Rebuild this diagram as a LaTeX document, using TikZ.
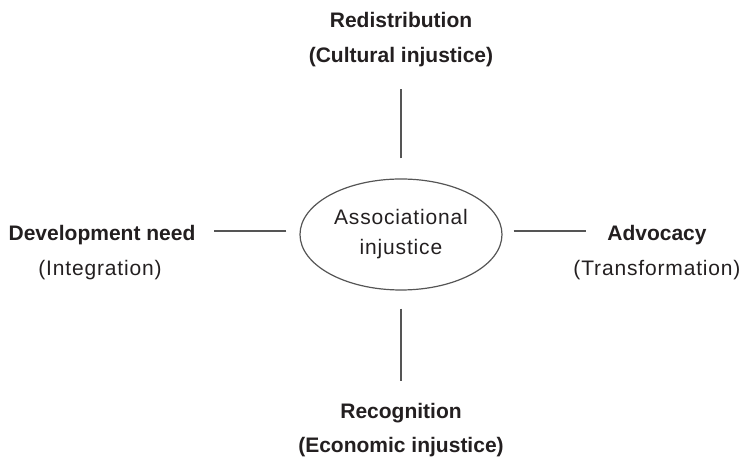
\documentclass[tikz,border=0pt]{standalone}
\usepackage{fontspec}
\setmainfont{Liberation Sans}
\usetikzlibrary{shapes.geometric}
\definecolor{ink}{HTML}{231F20}
\definecolor{linegray}{HTML}{555555}
\begin{document}
\begin{tikzpicture}[x=1pt,y=1pt,
  head/.style={font=\fontsize{21}{29}\selectfont\bfseries, text=ink, inner sep=0pt, anchor=base},
  plain/.style={font=\fontsize{21}{29}\selectfont\addfontfeature{LetterSpace=4}, text=ink, inner sep=0pt, anchor=base},
  conn/.style={draw=linegray, line width=1.4pt},
  hub/.style={ellipse, draw=linegray, line width=1.2pt, minimum width=202pt, minimum height=111pt,
    inner sep=0pt, align=center, text=ink,
    font=\fontsize{21}{30}\selectfont\addfontfeature{LetterSpace=4}},
]
\useasboundingbox (0,0) rectangle (740,457);

% central ellipse
\node[hub] (ell) at (401,222.5) {Associational\\injustice};

% top
\node[head] (redis) at (401,429) {Redistribution};
\node[head] (cult) at (401,394) {(Cultural injustice)};
% bottom
\node[head] (recog) at (401,38) {Recognition};
\node[head] (econ) at (401,4) {(Economic injustice)};
% left
\node[head] (dev) at (102,216) {Development need};
\node[plain] (integ) at (100,181) {(Integration)};
% right
\node[head] (adv) at (657,216) {Advocacy};
\node[plain] (trans) at (657,181) {(Transformation)};

% connectors
\draw[conn, shorten <=20pt, shorten >=21pt] (ell.north) -- (ell.north |- cult.south);
\draw[conn, shorten <=18pt, shorten >=23pt] (ell.south) -- (ell.south |- recog.north);
\draw[conn, shorten <=13pt, shorten >=18pt] ([yshift=3.5pt]ell.west) -- ([yshift=3.5pt]ell.west -| dev.east);
\draw[conn, shorten <=11pt, shorten >=21pt] ([yshift=3.5pt]ell.east) -- ([yshift=3.5pt]ell.east -| adv.west);
\end{tikzpicture}
\end{document}
